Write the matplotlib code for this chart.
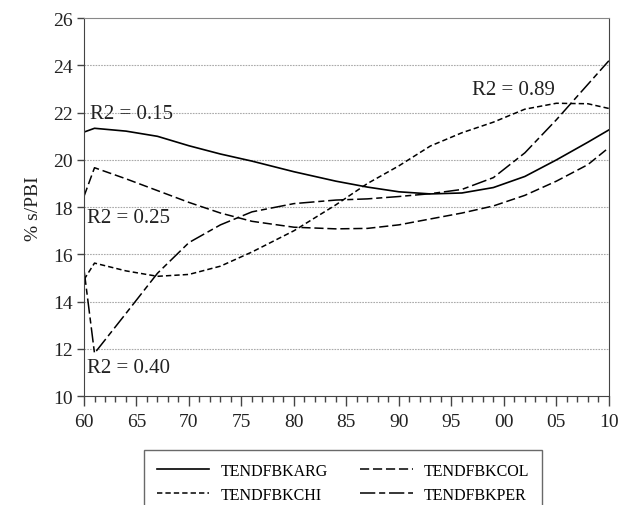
import matplotlib
matplotlib.use("Agg")
import matplotlib.pyplot as plt
from matplotlib.ticker import MultipleLocator, FixedLocator

plt.rcParams['font.family'] = ['Liberation Serif', 'DejaVu Serif']

# years
years = [1960, 1961, 1964, 1967, 1970, 1973, 1976, 1980, 1984, 1987,
         1990, 1993, 1996, 1999, 2002, 2005, 2008, 2010]

arg = [21.18, 21.34, 21.22, 21.0, 20.6, 20.25, 19.95, 19.5, 19.1, 18.85,
       18.65, 18.56, 18.6, 18.83, 19.3, 20.0, 20.75, 21.27]
col = [18.46, 19.67, 19.2, 18.7, 18.2, 17.75, 17.4, 17.15, 17.08, 17.1,
       17.25, 17.5, 17.75, 18.05, 18.5, 19.1, 19.8, 20.52]
chi = [14.93, 15.63, 15.3, 15.07, 15.15, 15.5, 16.1, 17.0, 18.1, 19.0,
       19.75, 20.59, 21.15, 21.6, 22.15, 22.4, 22.38, 22.18]
per = [15.35, 11.81, 13.5, 15.2, 16.5, 17.25, 17.8, 18.15, 18.3, 18.35,
       18.45, 18.57, 18.75, 19.25, 20.3, 21.7, 23.2, 24.2]

xticks = [1960, 1965, 1970, 1975, 1980, 1985, 1990, 1995, 2000, 2005, 2010]
xlabels = ['60', '65', '70', '75', '80', '85', '90', '95', '00', '05', '10']
r2_labels = [('R2 = 0.15', 1960.6, 21.95), ('R2 = 0.25', 1960.25, 17.56),
             ('R2 = 0.40', 1960.25, 11.2), ('R2 = 0.89', 1997.0, 23.0)]

fig = plt.figure(figsize=(6.2, 5.06), dpi=100)
ax = fig.add_axes([0.1355, 0.2154, 0.8465, 0.7465])

l_arg, = ax.plot(years, arg, color='black', lw=1.2, label='TENDFBKARG')
l_col, = ax.plot(years, col, color='black', lw=1.1, dashes=(6, 2.5), label='TENDFBKCOL')
l_chi, = ax.plot(years, chi, color='black', lw=1.1, dashes=(3.5, 2), label='TENDFBKCHI')
l_per, = ax.plot(years, per, color='black', lw=1.1, dashes=(10, 2.5, 4, 2.5), label='TENDFBKPER')

for txt, x, y in r2_labels:
    ax.text(x, y, txt, fontsize=15, va='center', ha='left', color='#222222')

ax.set_xlim(1960, 2010)
ax.set_ylim(10, 26)
ax.xaxis.set_major_locator(FixedLocator(xticks))
ax.set_xticklabels(xlabels)
ax.xaxis.set_minor_locator(MultipleLocator(1))
ax.yaxis.set_major_locator(MultipleLocator(2))
ax.tick_params(axis='x', which='major', length=7, width=1, colors='#444444',
               labelsize=14, labelcolor='#222222', pad=5)
ax.tick_params(axis='x', which='minor', length=4, width=1, colors='#444444')
ax.tick_params(axis='y', length=5, width=1, colors='#444444',
               labelsize=14, labelcolor='#222222', pad=3)

for y in range(12, 26, 2):
    ax.axhline(y, color='#aaaaaa', lw=0.8, ls=(0, (1.5, 1)), zorder=0)

ax.spines['left'].set_color('#444444')
ax.spines['bottom'].set_color('#444444')
ax.spines['right'].set_color('#444444')
ax.spines['top'].set_color('#888888')

ax.set_ylabel('% s/PBI', fontsize=14, color='#222222', labelpad=8)

# row 1: ARG, COL / row 2: CHI, PER
leg = fig.legend([l_arg, l_chi, l_col, l_per],
                 ['TENDFBKARG', 'TENDFBKCHI', 'TENDFBKCOL', 'TENDFBKPER'],
                 loc='upper left', bbox_to_anchor=(144 / 620, 1 - 451 / 506),
                 ncol=2, fontsize=11.5, frameon=True, fancybox=False,
                 edgecolor='#444444', handlelength=3.3, columnspacing=2.0,
                 borderpad=0.8, labelspacing=0.5, handletextpad=0.7,
                 borderaxespad=0)
leg.get_frame().set_linewidth(1.0)

fig.savefig('out.png', dpi=100)
